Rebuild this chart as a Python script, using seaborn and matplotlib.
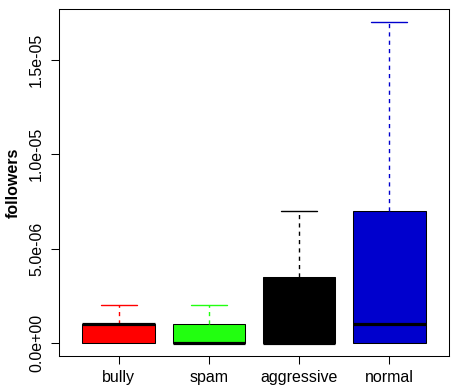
import pandas as pd
import matplotlib
matplotlib.use('Agg')
import matplotlib.pyplot as plt
import seaborn as sns

# box summary per group
groups = ['bully', 'spam', 'aggressive', 'normal']
box_colors = ['#ff0000', '#22ff10', '#000000', '#0000cd']
lower = [0.0, 0.0, 0.0, 0.0]
q1 = [0.0, 0.0, 0.0, 0.0]
median = [1e-6, 0.0, 0.0, 1e-6]
q3 = [1e-6, 1e-6, 3.5e-6, 7e-6]
upper = [2e-6, 2e-6, 7e-6, 1.7e-05]

y_ticks = [0.0, 5e-6, 1e-5, 1.5e-5]
y_tick_labels = ['0.0e+00', '5.0e-06', '1.0e-05', '1.5e-05']


def build_samples():
    """
    Expands the five-number summaries into small samples that give
    back the same quartiles and whisker ends.
    """
    rows = []
    for g, lo, a, m, b, hi in zip(groups, lower, q1, median, q3, upper):
        for v in [lo, lo, a, m, m, m, b, hi, hi]:
            rows.append({'group': g, 'followers': v})
    return pd.DataFrame(rows)


df = build_samples()

sns.set_style('white')
plt.rcParams['font.family'] = ['Liberation Sans', 'DejaVu Sans']

fig = plt.figure(figsize=(4.64, 3.92), dpi=100)
ax = fig.add_axes([59 / 464, 1 - 356 / 392, 390 / 464, 347 / 392])

# one call per group so whiskers and caps can take the box colour
for g, col in zip(groups, box_colors):
    sub = df[df['group'] == g]
    sns.boxplot(data=sub, x='group', y='followers', order=groups, color=col,
                width=0.8, saturation=1, linecolor='black', linewidth=0.75,
                showfliers=False, whis=1.5, ax=ax,
                medianprops=dict(linewidth=2.3, color='black', solid_capstyle='butt'),
                whiskerprops=dict(linestyle=(0, (3, 3)), color=col, linewidth=1.0),
                capprops=dict(color=col, linewidth=1.0))

# drop the zero-length lower whiskers and their caps
for line in ax.lines:
    yd = list(line.get_ydata())
    if line.get_linewidth() < 2 and len(yd) == 2 and max(yd) <= 0:
        line.set_visible(False)

ax.set_xlim(0.5 - 1 - 0.16, 4.5 - 1 + 0.16)
ax.set_ylim(-0.68e-6, 17.68e-6)

ax.set_yticks(y_ticks)
ax.set_yticklabels(y_tick_labels, rotation=90, va='center')
ax.set_xlabel('')
ax.set_ylabel('followers', fontsize=11.5, fontweight='bold', labelpad=6, color='black')

ax.tick_params(axis='both', which='both', direction='out', length=5.8, width=0.75,
               color='black', labelsize=11.5, labelcolor='black', left=True, bottom=True)
ax.tick_params(axis='x', pad=4)
ax.tick_params(axis='y', pad=5)

for s in ax.spines.values():
    s.set_visible(True)
    s.set_color('black')
    s.set_linewidth(0.75)

plt.savefig('out.png', dpi=100)
